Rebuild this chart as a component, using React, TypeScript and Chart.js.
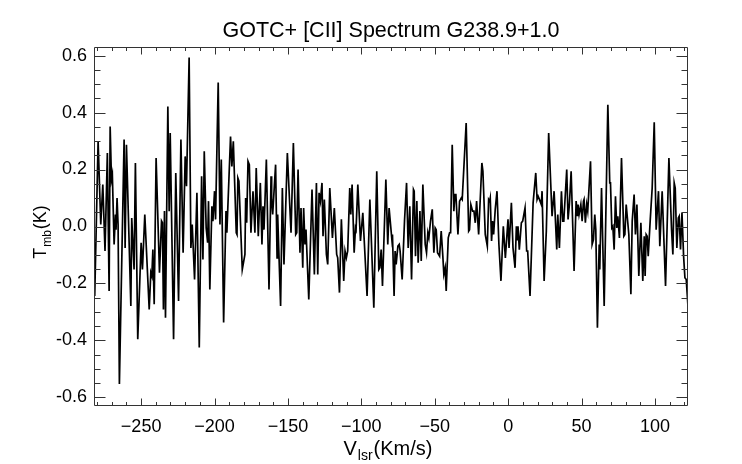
import React, { useEffect, useRef } from "react";
import { Chart, registerables } from "chart.js";

Chart.register(...registerables);

// LSR velocity (km/s) of each traced spectral vertex
const velocity: number[] = [
  -281.6, -279.3, -277.5, -276.1, -274.6, -273.0, -271.8, -271.1, -270.2, -269.6,
  -268.4, -267.5, -267.1, -266.4, -265.7, -264.8, -261.6, -260.9, -260.0, -257.0,
  -256.4, -254.8, -253.9, -252.3, -250.0, -249.1, -247.5, -244.5, -243.4, -242.7,
  -242.0, -241.1, -239.8, -237.5, -236.1, -235.5, -234.8, -234.1, -233.4, -231.8,
  -230.9,
  -230.2, -227.9, -226.4, -224.5, -222.9, -221.4, -220.0, -219.1, -217.3, -216.1,
  -215.2, -213.6, -212.0, -210.4, -208.8, -207.9, -207.0, -205.7, -204.7, -204.1,
  -203.2, -201.8, -201.1, -200.0, -199.3, -197.5, -196.3, -195.4, -193.8, -192.2,
  -191.6, -189.1, -188.2, -187.2, -185.2, -184.7, -184.1, -183.4, -181.1,
  -179.3, -178.8, -178.1, -177.2, -176.3, -175.2, -173.8, -172.5, -171.6, -170.2,
  -168.8, -167.7, -167.0, -166.3, -164.7, -162.9, -161.5, -161.1, -160.4, -158.4,
  -157.4, -157.0, -155.0, -153.8, -152.7, -150.4, -147.9, -146.3, -144.7, -144.0,
  -143.1, -141.8, -141.1, -139.9, -139.3, -138.4, -137.7, -135.8, -133.6, -132.0,
  -130.6, -129.7,
  -128.8, -127.9, -126.8, -126.1, -125.2, -123.8, -122.9, -121.5, -119.7, -118.4,
  -116.8, -116.1, -114.9, -113.6, -112.0, -111.1, -110.2, -109.3, -107.9, -107.2,
  -106.3, -104.9, -104.0, -103.6, -102.4, -100.6, -99.0, -96.1, -94.2, -91.5,
  -89.5, -88.1, -87.4, -86.5, -85.6, -83.3, -82.0, -81.1, -79.2,
  -78.8, -77.7, -77.0, -76.3, -75.1, -74.2, -73.6, -72.2, -70.6, -69.2,
  -68.1, -67.0, -65.8, -64.5, -64.0, -63.1, -62.2, -61.3, -60.1, -59.2,
  -58.1, -56.5, -55.6, -54.7, -54.0, -52.9, -51.7, -50.6, -49.7, -49.0,
  -48.1, -46.7, -45.6, -44.5, -43.8, -42.9, -42.2, -40.8, -39.9, -39.2,
  -38.1, -37.0, -36.3, -35.6, -34.2, -33.1, -31.9, -31.3, -28.6,
  -26.9, -26.3, -25.4, -24.2, -23.3, -22.4, -21.5, -20.1, -17.9, -17.2,
  -15.6, -14.2, -13.3, -12.6, -12.2, -11.3, -10.6, -9.9, -8.8, -7.6,
  -6.3, -4.9, -3.3, -1.9, -0.1, 0.6, 2.2, 3.3, 4.7, 5.6,
  6.3, 6.7, 7.6, 9.0, 9.9, 11.5, 12.6, 13.3, 14.9, 17.0,
  18.8, 19.7, 20.4, 21.3,
  22.6, 23.1, 24.5, 26.0, 27.6, 29.9, 31.3, 33.1, 33.8, 34.9,
  36.3, 37.2, 37.9, 39.9, 40.8, 41.7, 42.9, 44.9, 46.3, 47.2,
  47.6, 48.3, 49.5, 50.4, 51.3, 51.7, 52.6, 53.5, 54.2, 56.1,
  57.2, 58.1, 59.0, 59.7, 60.8, 62.0, 62.4, 63.6, 65.4, 67.9,
  69.2, 69.7, 70.6, 71.3, 72.2,
  73.1, 74.0, 74.7, 75.8, 77.2, 78.8, 79.5, 80.4, 82.2, 83.6,
  84.5, 85.8, 86.7, 87.7, 89.0, 90.4, 91.7, 92.7, 93.3, 94.0,
  94.7, 95.4, 96.8, 98.1, 99.5, 100.8, 102.4, 103.3, 104.9, 107.2,
  109.5, 111.3, 112.2, 113.1, 113.8, 114.9, 115.9, 116.5, 117.4, 118.4,
  119.5, 120.4, 121.3, 122.7,
];

// main-beam temperature (K)
const tmb: number[] = [
  -0.244, 0.299, 0.007, 0.147, -0.086, 0.258, -0.226, 0.351, 0.165, 0.182,
  -0.063, 0.042, -0.011, 0.100, 0.007, -0.553, 0.305, -0.075, 0.287, -0.279,
  0.030, -0.151, 0.223, -0.396, -0.057, -0.151, 0.042, -0.291, -0.162, -0.174,
  -0.081, -0.273, 0.240, -0.162, 0.019, 0.013, -0.291, 0.054, -0.320, 0.421,
  0.054,
  0.328, -0.396, 0.188, -0.261, 0.305, -0.092, 0.246, 0.141, 0.593, -0.075,
  0.007, -0.186, 0.118, -0.425, 0.176, -0.116, 0.264, -0.005, -0.057, 0.089,
  -0.221, 0.071, 0.019, 0.124, 0.025, 0.505, 0.007, 0.235, -0.337, 0.054,
  -0.022, 0.316, 0.211, 0.299, -0.022, -0.028, 0.170, 0.159, -0.151,
  -0.098, 0.100, 0.013, 0.229, 0.217, -0.022, 0.124, -0.022, 0.205, -0.034,
  0.153, -0.063, 0.071, -0.011, 0.235, -0.221, 0.176, 0.095, 0.042, 0.217,
  -0.110, 0.042, -0.279, 0.135, -0.133, 0.258, -0.022, 0.293, -0.028, -0.022,
  0.200, -0.092, 0.065, -0.145, 0.065, -0.063, -0.011, -0.256, 0.130, -0.168,
  0.153, -0.168,
  0.118, 0.089, 0.153, -0.034, 0.095, -0.098, -0.133, 0.135, -0.040, 0.065,
  -0.098, -0.110, -0.232, 0.025, -0.191, -0.086, -0.110, -0.086, 0.135, 0.042,
  0.147, -0.092, -0.005, -0.011, 0.147, -0.051, 0.048, -0.244, 0.095, -0.285,
  0.194, -0.151, -0.145, -0.081, -0.209, 0.165, -0.063, 0.065, -0.046,
  -0.028, -0.244, -0.086, -0.133, -0.069, -0.063, -0.086, -0.186, 0.019, 0.153,
  -0.075, 0.071, -0.186, 0.130, 0.124, -0.104, 0.089, -0.127, 0.054, -0.121,
  0.147, -0.063, -0.092, -0.022, -0.040, 0.019, 0.060, -0.092, -0.005, -0.011,
  -0.092, -0.104, -0.016, -0.104, -0.168, -0.145, -0.226, -0.040, -0.022, -0.022,
  0.287, 0.054, 0.112, 0.112, -0.028, 0.089, 0.100, 0.095, 0.363,
  -0.016, -0.011, 0.077, 0.054, 0.054, 0.013, 0.089, -0.028, 0.223, 0.194,
  -0.028, -0.069, 0.095, 0.089, 0.100, -0.051, 0.019, -0.028, 0.060, 0.124,
  -0.063, -0.191, 0.001, -0.110, 0.025, -0.075, 0.083, -0.075, -0.145, 0.001,
  -0.046, 0.001, -0.081, 0.013, 0.019, 0.065, -0.086, -0.086, -0.244, 0.083,
  0.188, 0.095, 0.106, 0.095,
  0.077, 0.124, -0.191, -0.016, 0.328, 0.036, 0.124, -0.081, 0.042, -0.075,
  0.124, 0.019, 0.019, 0.200, 0.025, 0.077, 0.194, -0.156, 0.089, 0.036,
  0.077, 0.042, 0.077, 0.019, 0.089, 0.095, 0.013, 0.077, 0.054, 0.229,
  -0.063, -0.046, 0.042, -0.011, -0.355, -0.063, -0.151, 0.135, -0.279, 0.427,
  0.153, 0.153, -0.005, 0.001, -0.081,
  0.106, -0.005, 0.036, -0.040, 0.240, -0.034, -0.028, 0.077, -0.028, -0.238,
  0.019, 0.112, -0.028, 0.077, -0.174, 0.013, -0.191, -0.034, -0.174, -0.028,
  -0.034, -0.104, 0.025, 0.135, 0.366, -0.011, 0.124, -0.069, 0.124, -0.209,
  0.240, -0.011, -0.098, 0.153, 0.135, -0.075, 0.030, 0.036, -0.081, 0.048,
  -0.104, -0.180, -0.186, -0.296,
];

const xTickValues: number[] = [-250, -200, -150, -100, -50, 0, 50, 100];
const xTickLabels: string[] = ["\u2212250", "\u2212200", "\u2212150", "\u2212100", "\u221250", "0", "50", "100"];
const yTickValues: number[] = [-0.6, -0.4, -0.2, 0, 0.2, 0.4, 0.6];
const yTickLabels: string[] = ["-0.6", "-0.4", "-0.2", "0.0", "0.2", "0.4", "0.6"];

const titleText = "GOTC+ [CII] Spectrum G238.9+1.0";
const xTitleMain = "V";
const xTitleSub = "lsr";
const xTitleTail = "(Km/s)";
const yTitleMain = "T";
const yTitleSub = "mb";
const yTitleTail = "(K)";

const X_MIN = -282.1;
const X_MAX = 122.5;
const Y_MIN = -0.63;
const Y_MAX = 0.63;
const X_MINOR_STEP = 10;
const Y_MINOR_STEP = 0.05;

const FONT = "'Liberation Sans', Arial, Helvetica, sans-serif";
const FRAME = "#333333";

function drawSubscripted(
  ctx: CanvasRenderingContext2D,
  main: string,
  sub: string,
  tail: string,
  cx: number,
  baseline: number,
  bigSize: number,
  smallSize: number
) {
  const big = `${bigSize}px ${FONT}`;
  const small = `${smallSize}px ${FONT}`;
  ctx.font = big;
  const wMain = ctx.measureText(main).width;
  const wTail = ctx.measureText(tail).width;
  ctx.font = small;
  const wSub = ctx.measureText(sub).width;
  const gap = 1;
  const total = wMain + wSub + wTail + 2 * gap;
  let x = cx - total / 2;
  ctx.textAlign = "left";
  ctx.textBaseline = "alphabetic";
  ctx.font = big;
  ctx.fillText(main, x, baseline);
  x += wMain + gap;
  ctx.font = small;
  ctx.fillText(sub, x, baseline + 5);
  x += wSub + gap;
  ctx.font = big;
  ctx.fillText(tail, x, baseline);
}

const framePlugin = {
  id: "idlFrame",
  afterDatasetsDraw(chart: any) {
    const { ctx, chartArea: a, scales } = chart;
    const xs = scales.x;
    const ys = scales.y;
    const L = Math.round(a.left) + 0.5;
    const R = Math.round(a.right) - 0.5;
    const T = Math.round(a.top) + 0.5;
    const B = Math.round(a.bottom) - 0.5;
    ctx.save();
    ctx.strokeStyle = FRAME;
    ctx.lineWidth = 1;
    ctx.beginPath();
    ctx.rect(L, T, R - L, B - T);
    ctx.stroke();

    ctx.beginPath();
    const kx0 = Math.ceil(X_MIN / X_MINOR_STEP);
    const kx1 = Math.floor(X_MAX / X_MINOR_STEP);
    for (let k = kx0; k <= kx1; k++) {
      const v = k * X_MINOR_STEP;
      const px = Math.round(xs.getPixelForValue(v)) + 0.5;
      const major = k % 5 === 0;
      const len = major ? 7 : 3.5;
      ctx.moveTo(px, B);
      ctx.lineTo(px, B - len);
      ctx.moveTo(px, T);
      ctx.lineTo(px, T + len);
    }
    const ky0 = Math.ceil(Y_MIN / Y_MINOR_STEP - 1e-9);
    const ky1 = Math.floor(Y_MAX / Y_MINOR_STEP + 1e-9);
    for (let k = ky0; k <= ky1; k++) {
      const v = k * Y_MINOR_STEP;
      const py = Math.round(ys.getPixelForValue(v)) + 0.5;
      const major = k % 4 === 0;
      const len = major ? 11 : 6;
      ctx.moveTo(L, py);
      ctx.lineTo(L + len, py);
      ctx.moveTo(R, py);
      ctx.lineTo(R - len, py);
    }
    ctx.stroke();
    ctx.restore();
  },
  afterDraw(chart: any) {
    const { ctx, chartArea: a } = chart;
    ctx.save();
    ctx.fillStyle = "#000000";
    const cx = (a.left + a.right) / 2;
    ctx.font = `21.5px ${FONT}`;
    ctx.textAlign = "center";
    ctx.textBaseline = "alphabetic";
    ctx.fillText(titleText, cx, 37);

    drawSubscripted(ctx, xTitleMain, xTitleSub, xTitleTail, cx - 3, 455, 20, 14);

    ctx.translate(46, 232);
    ctx.rotate(-Math.PI / 2);
    drawSubscripted(ctx, yTitleMain, yTitleSub, yTitleTail, 0, 0, 18, 12);
    ctx.restore();
  },
};

export default function App() {
  const canvasRef = useRef<HTMLCanvasElement | null>(null);

  useEffect(() => {
    const canvas = canvasRef.current;
    if (!canvas) return;
    const points = velocity.map((v, i) => ({ x: v, y: tmb[i] }));
    const chart = new Chart(canvas, {
      type: "scatter",
      data: {
        datasets: [
          {
            data: points,
            showLine: true,
            borderColor: "#000000",
            borderWidth: 1.7,
            pointRadius: 0,
            pointHoverRadius: 0,
            tension: 0,
            fill: false,
          },
        ],
      },
      options: {
        animation: false,
        responsive: false,
        maintainAspectRatio: false,
        layout: { padding: { top: 47, right: 54, bottom: 0, left: 0 } },
        plugins: {
          legend: { display: false },
          title: { display: false },
          tooltip: { enabled: false },
        },
        events: [],
        scales: {
          x: {
            type: "linear",
            min: X_MIN,
            max: X_MAX,
            grid: { display: false, drawTicks: false },
            border: { display: false },
            afterBuildTicks: (scale: any) => {
              scale.ticks = xTickValues.map((v) => ({ value: v }));
            },
            afterFit: (scale: any) => {
              scale.height = 58;
            },
            ticks: {
              autoSkip: false,
              maxRotation: 0,
              padding: 10,
              color: "#000000",
              font: { size: 18, family: FONT },
              callback: (value: any) => {
                const i = xTickValues.indexOf(Number(value));
                return i >= 0 ? xTickLabels[i] : "";
              },
            },
          },
          y: {
            type: "linear",
            min: Y_MIN,
            max: Y_MAX,
            grid: { display: false, drawTicks: false },
            border: { display: false },
            afterBuildTicks: (scale: any) => {
              scale.ticks = yTickValues.map((v) => ({ value: v }));
            },
            afterFit: (scale: any) => {
              scale.width = 94;
            },
            ticks: {
              autoSkip: false,
              padding: 7,
              color: "#000000",
              font: { size: 18, family: FONT },
              callback: (value: any) => {
                const i = yTickValues.findIndex((v) => Math.abs(v - Number(value)) < 1e-6);
                return i >= 0 ? yTickLabels[i] : "";
              },
            },
          },
        },
      },
      plugins: [framePlugin],
    });
    return () => chart.destroy();
  }, []);

  return (
    <canvas
      ref={canvasRef}
      width={742}
      height={464}
      style={{ position: "absolute", left: 0, top: 0, width: 742, height: 464, display: "block" }}
    />
  );
}
